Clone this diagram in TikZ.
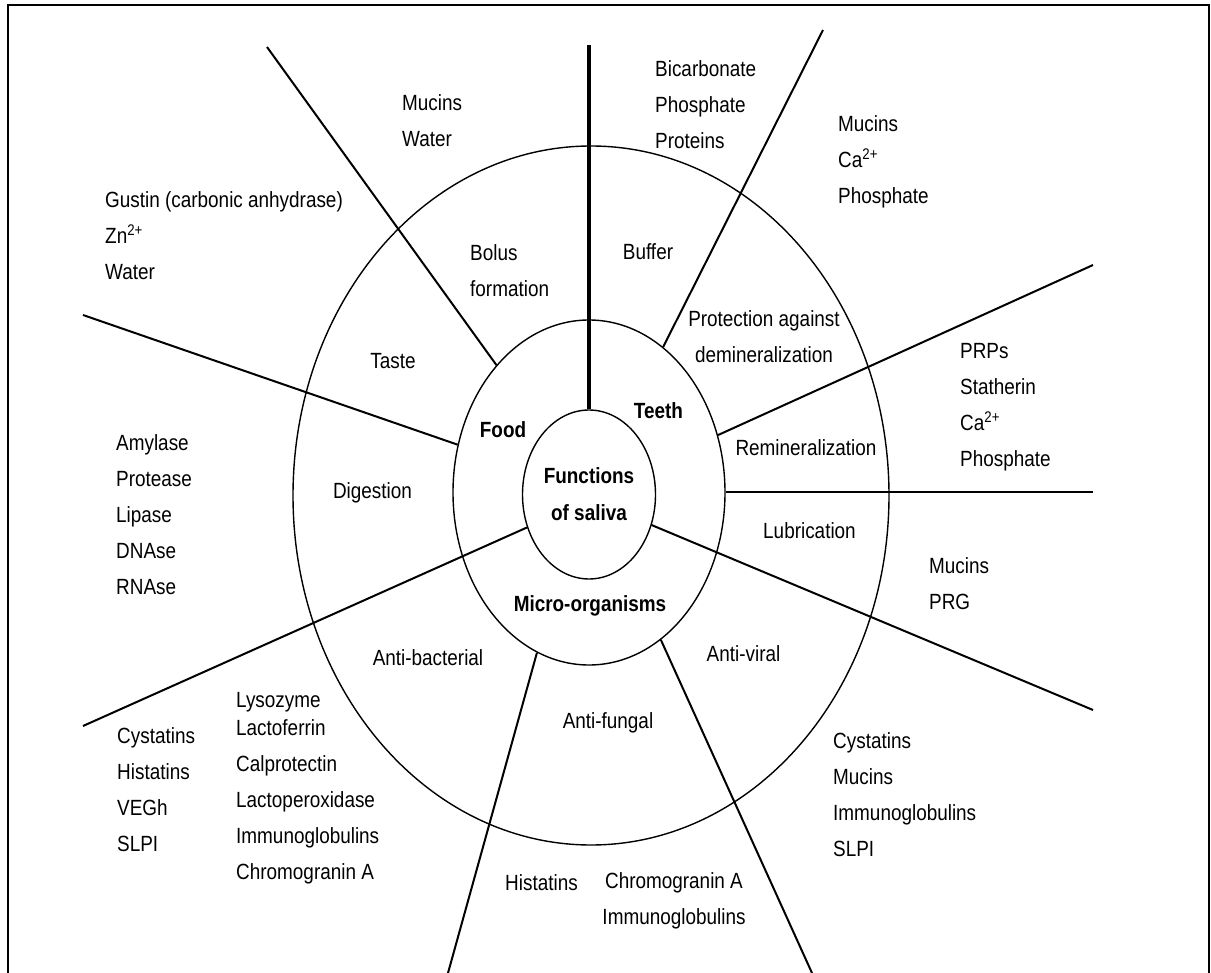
\documentclass[tikz,border=0pt]{standalone}
\usepackage{fontspec}
\setmainfont{Liberation Sans}[FakeStretch=0.86]
\usetikzlibrary{shapes.geometric}
\newcommand{\fl}{\rule{0pt}{16pt}}
\begin{document}
\begin{tikzpicture}[x=1pt,y=-1pt,
  txt/.style={inner sep=0pt, font=\fontsize{22}{36}\selectfont},
  lblock/.style={txt, anchor=north west, align=left},
  cblock/.style={txt, anchor=north, align=center},
  one/.style={txt, anchor=base},
  boldone/.style={inner sep=0pt, anchor=base, font=\bfseries\fontsize{22}{36}\selectfont},
  ringshape/.style={draw, ellipse, inner sep=0pt, line width=1.4pt},
  spoke/.style={line width=2pt},
  mainspoke/.style={line width=3.3pt},
  framestyle/.style={line width=2.2pt}]
\useasboundingbox (0,0) rectangle (1211,973);
\draw[framestyle] (8,973) -- (8,5) -- (1209,5) -- (1209,973);

% rings
\node[ringshape, minimum width=596pt, minimum height=699pt] (outer) at (591,495.5) {};
\node[ringshape, minimum width=272pt, minimum height=345pt] (mid) at (589,492.5) {};
\node[ringshape, minimum width=133pt, minimum height=169pt, align=center,
      font=\bfseries\fontsize{22}{37}\selectfont] (core) at (589,494.5) {Functions\\of saliva};

% free ends of spokes
\coordinate (t1) at (589,45);
\coordinate (t2) at (267,47);
\coordinate (t3) at (823,30);
\coordinate (t4) at (1093,265);
\coordinate (t5) at (1093,492.5);
\coordinate (t6) at (1093,710);
\coordinate (t7) at (812,973);
\coordinate (t8) at (448,973);
\coordinate (t9) at (83,726);
\coordinate (t10) at (83,315);

% spokes
\draw[mainspoke] (core.north) -- (t1);
\draw[spoke] (mid.126.1) -- (t2);
\draw[spoke] (mid.63) -- (t3);
\draw[spoke] (mid.24.8) -- (t4);
\draw[spoke] (mid.east) -- (t5);
\draw[spoke] (core.-26.9) -- (t6);
\draw[spoke] (mid.-64.9) -- (t7);
\draw[spoke] (mid.-108.1) -- (t8);
\draw[spoke] (core.208.8) -- (t9);
\draw[spoke] (mid.160.1) -- (t10);

% inner ring labels
\node[boldone] (food) at (503,438) {Food};
\node[boldone] (teeth) at (658.5,419) {Teeth};
\node[boldone] (micro) at (590,611) {Micro-organisms};

% middle ring labels
\node[lblock] (bolus) at (470,244) {\fl Bolus\\formation};
\node[one] (buffer) at (648,260) {Buffer};
\node[cblock] (prot) at (764,310) {\fl Protection against\\demineralization};
\node[one] (taste) at (393,369) {Taste};
\node[one] (digest) at (372.5,499) {Digestion};
\node[one] (remin) at (806,456) {Remineralization};
\node[one] (lubr) at (809.5,538) {Lubrication};
\node[one] (antib) at (428,665) {Anti-bacterial};
\node[one] (antiv) at (743.5,661) {Anti-viral};
\node[one] (antif) at (608,728) {Anti-fungal};

% outer labels
\node[lblock] (mw) at (402,94) {\fl Mucins\\Water};
\node[lblock] (bpp) at (655,60) {\fl Bicarbonate\\Phosphate\\Proteins};
\node[lblock] (mcp) at (838,115) {\fl Mucins\\Ca\textsuperscript{2+}\\Phosphate};
\node[lblock] (gzw) at (105,191) {\fl Gustin (carbonic anhydrase)\\Zn\textsuperscript{2+}\\Water};
\node[lblock] (enz) at (116,434) {\fl Amylase\\Protease\\Lipase\\DNAse\\RNAse};
\node[lblock] (prp) at (960,342) {\fl PRPs\\Statherin\\Ca\textsuperscript{2+}\\Phosphate};
\node[lblock] (mprg) at (929,557) {\fl Mucins\\PRG};
\node[lblock] (cmis) at (833,732) {\fl Cystatins\\Mucins\\Immunoglobulins\\SLPI};
\node[lblock] (chvs) at (117,727) {\fl Cystatins\\Histatins\\VEGh\\SLPI};
\node[lblock] (lys) at (236,691) {\fl Lysozyme\\[-8pt]Lactoferrin\\Calprotectin\\Lactoperoxidase\\Immunoglobulins\\Chromogranin A};
\node[one] (hist) at (541.5,890) {Histatins};
\node[cblock] (cgi) at (674,872) {\fl Chromogranin A\\Immunoglobulins};
\end{tikzpicture}
\end{document}
